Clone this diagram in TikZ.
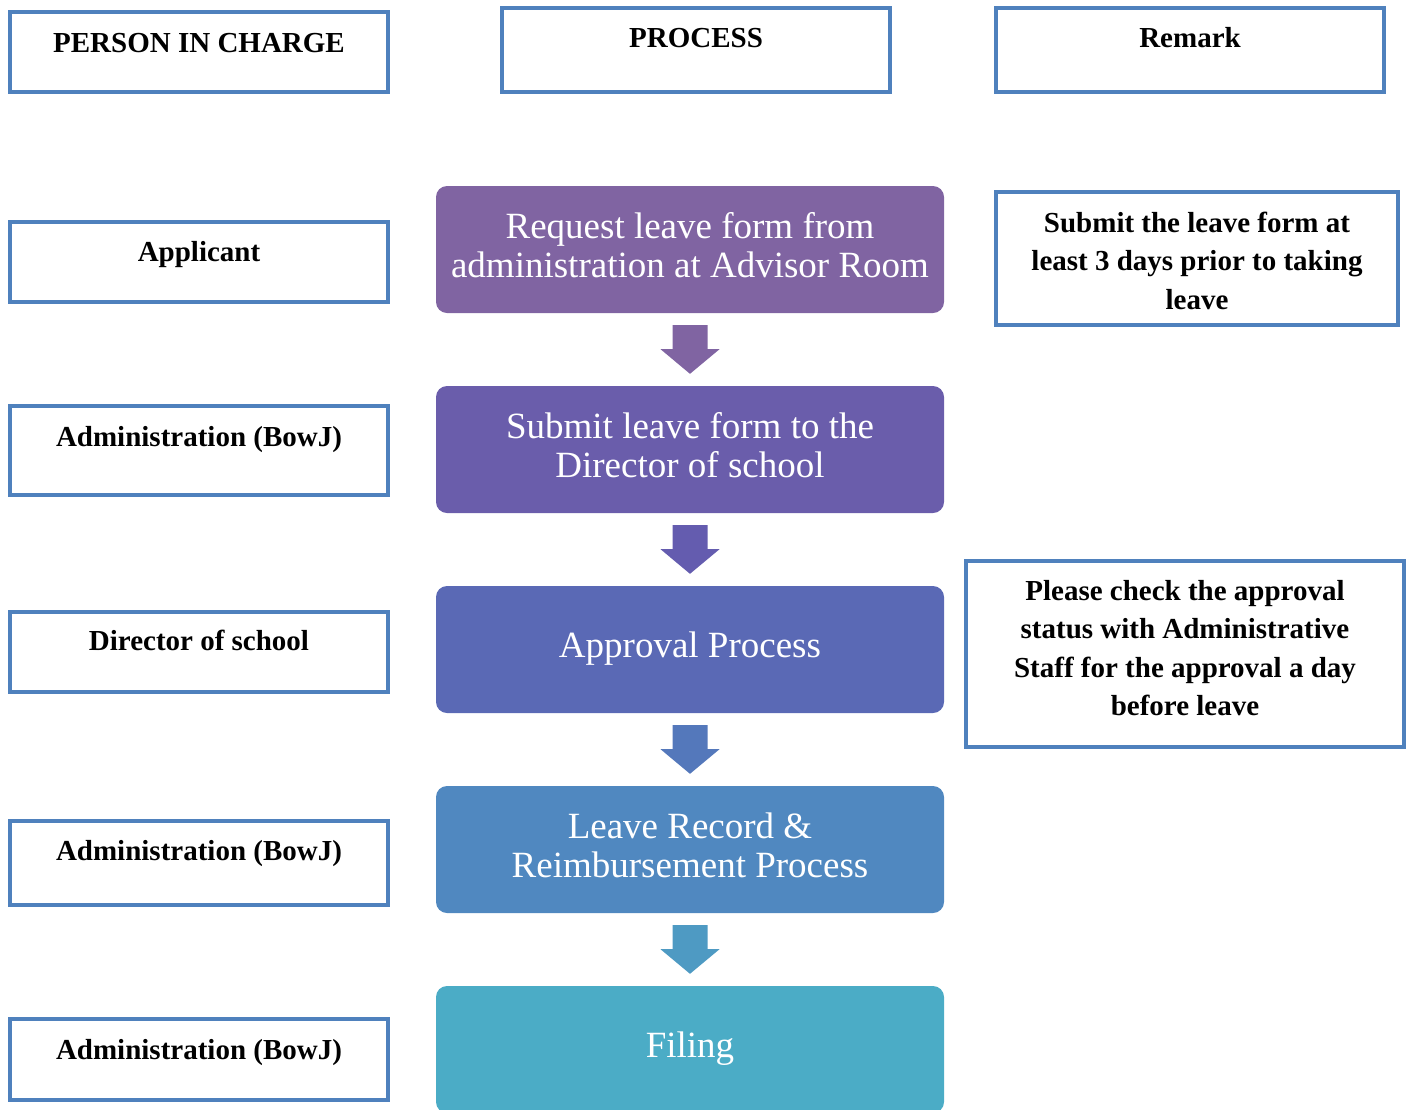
\documentclass[tikz,border=0pt]{standalone}
\usepackage{fontspec}
\setmainfont{Liberation Serif}
\usetikzlibrary{calc}
\definecolor{bordc}{HTML}{4F81BD}
\definecolor{pA}{HTML}{8064A2}
\definecolor{pB}{HTML}{6A5DAB}
\definecolor{pC}{HTML}{5A69B5}
\definecolor{pD}{HTML}{5088C0}
\definecolor{pE}{HTML}{4BACC6}
\definecolor{aA}{HTML}{8064A2}
\definecolor{aB}{HTML}{645CAF}
\definecolor{aC}{HTML}{5478BB}
\definecolor{aD}{HTML}{4E9AC3}
\tikzset{
  obox/.style={draw=bordc, line width=4pt, fill=white, rectangle, inner sep=0pt},
  otext/.style={font=\fontsize{29}{38.5}\selectfont\bfseries, align=center, inner sep=0pt, text=black},
  pbox/.style={rectangle, rounded corners=11pt, inner sep=0pt, minimum width=508pt, minimum height=127pt},
  ptext/.style={text=white, align=center, inner sep=0pt, font=\fontsize{37}{39}\selectfont},
}
\newcommand\blockarrow[3]{%
  \fill[#3] ($(#1.south)+(-17.5,12)$) -- ($(#1.south)+(17.5,12)$) -- ($(#1.south)+(17.5,36)$)
    -- ($(#1.south)+(29.5,36)$) -- ($(#2.north)+(0,-12)$) -- ($(#1.south)+(-29.5,36)$)
    -- ($(#1.south)+(-17.5,36)$) -- cycle;}
\begin{document}
\begin{tikzpicture}[x=1pt,y=-1pt]
\useasboundingbox (0,0) rectangle (1408,1109);
\clip (0,0) rectangle (1408,1109);
% header boxes
\node[obox, minimum width=378pt, minimum height=80pt] (h1) at (199,52) {};
\node[otext, anchor=base] (h1t) at (199,52) {PERSON IN CHARGE};
\node[obox, minimum width=388pt, minimum height=84pt] (h2) at (696,50) {};
\node[otext, anchor=base] (h2t) at (696,47) {PROCESS};
\node[obox, minimum width=388pt, minimum height=84pt] (h3) at (1190,50) {};
\node[otext, anchor=base] (h3t) at (1190,47) {Remark};
% person boxes
\node[obox, minimum width=378pt, minimum height=80pt] (l1) at (199,262) {};
\node[otext, anchor=base] (l1t) at (199,261) {Applicant};
\node[obox, minimum width=378pt, minimum height=89pt] (l2) at (199,450.5) {};
\node[otext, anchor=base] (l2t) at (199,446) {Administration (BowJ)};
\node[obox, minimum width=378pt, minimum height=80pt] (l3) at (199,652) {};
\node[otext, anchor=base] (l3t) at (199,650) {Director of school};
\node[obox, minimum width=378pt, minimum height=84pt] (l4) at (199,863) {};
\node[otext, anchor=base] (l4t) at (199,860) {Administration (BowJ)};
\node[obox, minimum width=378pt, minimum height=81pt] (l5) at (199,1059.5) {};
\node[otext, anchor=base] (l5t) at (199,1059) {Administration (BowJ)};
% remark boxes
\node[obox, minimum width=402pt, minimum height=133pt] (r1) at (1197,258.5) {};
\node[otext] (r1t) at (1197,260.5) {Submit the leave form at\\least 3 days prior to taking\\leave};
\node[obox, minimum width=438pt, minimum height=186pt] (r2) at (1185,654) {};
\node[otext] (r2t) at (1185,648) {Please check the approval\\status with Administrative\\Staff for the approval a day\\before leave};
% process boxes
\node[pbox, fill=pA] (p1) at (690,249.5) {};
\node[ptext] (p1t) at (690,245) {Request leave form from\\administration at Advisor Room};
\node[pbox, fill=pB] (p2) at (690,449.5) {};
\node[ptext] (p2t) at (690,445) {Submit leave form to the\\Director of school};
\node[pbox, fill=pC] (p3) at (690,649.5) {};
\node[ptext] (p3t) at (690,648.5) {Approval Process};
\node[pbox, fill=pD] (p4) at (690,849.5) {};
\node[ptext] (p4t) at (690,845.5) {Leave Record \&\\Reimbursement Process};
\node[pbox, fill=pE] (p5) at (690,1049.5) {};
\node[ptext] (p5t) at (690,1048.5) {Filing};
% arrows
\blockarrow{p1}{p2}{aA}
\blockarrow{p2}{p3}{aB}
\blockarrow{p3}{p4}{aC}
\blockarrow{p4}{p5}{aD}
\end{tikzpicture}
\end{document}
